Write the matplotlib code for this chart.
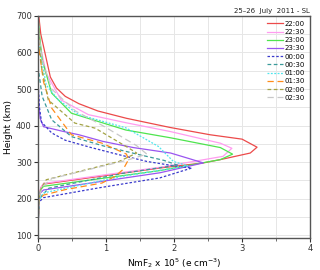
import matplotlib
matplotlib.use("Agg")
import matplotlib.pyplot as plt
from matplotlib.ticker import MultipleLocator

# electron density profiles, NmF2 (x 1e5 e/cm3) vs height (km)
h_2200 = [100, 200, 230, 240, 260, 284, 298, 307, 325, 341, 363, 375, 395, 420, 440, 460, 480, 503, 533, 600, 650, 700]
n_2200 = [0, 0.01, 0.04, 0.08, 0.86, 1.79, 2.43, 2.68, 3.12, 3.22, 3.00, 2.53, 1.94, 1.3, 0.88, 0.6, 0.4, 0.27, 0.18, 0.1, 0.04, 0.01]

h_2230 = [100, 200, 230, 242, 262, 286, 316, 338, 352, 384, 408, 430, 470, 543, 620, 700]
n_2230 = [0, 0.01, 0.04, 0.08, 0.85, 1.79, 2.72, 2.85, 2.68, 1.94, 1.29, 0.74, 0.34, 0.12, 0.03, 0]

h_2300 = [100, 200, 225, 234, 277, 307, 322, 340, 367, 388, 434, 489, 580, 650, 700]
n_2300 = [0, 0.01, 0.04, 0.08, 1.79, 2.68, 2.86, 2.68, 1.94, 1.29, 0.49, 0.2, 0.06, 0.02, 0]

h_2330 = [100, 200, 215, 224, 271, 298, 311, 325, 340, 357, 375, 385, 397, 420, 460, 540, 700]
n_2330 = [0, 0.01, 0.03, 0.08, 1.79, 2.43, 2.2, 1.95, 1.4, 0.95, 0.6, 0.35, 0.08, 0.03, 0.01, 0, 0]

h_0000 = [100, 190, 203, 230, 257, 284, 290, 302, 320, 340, 360, 380, 410, 450, 520, 700]
n_0000 = [0, 0.01, 0.08, 0.9, 1.79, 2.26, 2.0, 1.6, 1.2, 0.78, 0.4, 0.2, 0.05, 0.02, 0, 0]

h_0030 = [100, 195, 210, 229, 270, 292, 305, 320, 345, 370, 416, 480, 560, 700]
n_0030 = [0, 0.01, 0.06, 0.16, 1.26, 2.05, 1.85, 1.5, 0.95, 0.49, 0.2, 0.06, 0.0, 0]

h_0100 = [100, 195, 216, 260, 290, 302, 343, 394, 430, 470, 511, 600, 700]
n_0100 = [0, 0.01, 0.08, 1.2, 2.2, 1.99, 1.77, 1.29, 0.6, 0.3, 0.12, 0.03, 0]

h_0130 = [100, 195, 210, 225, 243, 261, 280, 307, 322, 352, 375, 448, 520, 600, 700]
n_0130 = [0, 0.01, 0.08, 0.4, 0.94, 1.13, 1.25, 1.33, 1.3, 0.94, 0.49, 0.2, 0.08, 0.02, 0]

h_0200 = [100, 200, 230, 252, 302, 325, 339, 393, 407, 470, 560, 650, 700]
n_0200 = [0, 0.01, 0.05, 0.12, 1.19, 1.45, 1.33, 0.84, 0.54, 0.15, 0.05, 0.01, 0]

h_0230 = [100, 200, 232, 255, 305, 322, 345, 400, 440, 500, 580, 650, 700]
n_0230 = [0, 0.01, 0.06, 0.2, 1.3, 1.6, 1.45, 0.95, 0.55, 0.2, 0.06, 0.01, 0]

labels = ["22:00", "22:30", "23:00", "23:30", "00:00", "00:30", "01:00", "01:30", "02:00", "02:30"]
heights = [h_2200, h_2230, h_2300, h_2330, h_0000, h_0030, h_0100, h_0130, h_0200, h_0230]
dens = [n_2200, n_2230, n_2300, n_2330, n_0000, n_0030, n_0100, n_0130, n_0200, n_0230]
colors = ["#ec4a4a", "#ff9cf0", "#4ee44e", "#9a55f0", "#3a3acc", "#3a9a9a", "#4ee6ee", "#ff8c1a", "#a3a345", "#c8c8c8"]
styles = ["-", "-", "-", "-", (0, (2, 1.5)), (0, (3, 2)), (0, (1.5, 1.2)), (0, (5, 3)), (0, (3, 2)), (0, (5, 3))]

fig = plt.figure(figsize=(3.2, 2.7), dpi=100)
ax = fig.add_axes([0.119, 0.119, 0.850, 0.822])

for h, n, lab, c, ls in zip(heights, dens, labels, colors, styles):
    ax.plot(n, h, color=c, linestyle=ls, linewidth=0.9, label=lab)

ax.set_xlim(0, 4)
ax.set_ylim(93, 700)
ax.xaxis.set_major_locator(MultipleLocator(1))
ax.xaxis.set_minor_locator(MultipleLocator(0.5))
ax.yaxis.set_major_locator(MultipleLocator(100))
ax.yaxis.set_minor_locator(MultipleLocator(50))
ax.grid(which="both", color="#e6e6e6", linewidth=0.7)
ax.set_axisbelow(True)
for s in ax.spines.values():
    s.set_color("#555555")
    s.set_linewidth(1.0)
ax.tick_params(which="major", length=3, width=0.8, labelsize=6, colors="#333333", pad=1.5)
ax.tick_params(which="minor", length=2, width=0.6, colors="#555555")

ax.set_ylabel("Height (km)", fontsize=6.5, labelpad=2)
ax.set_xlabel(r"NmF$_2$ x 10$^5$ (e cm$^{-3}$)", fontsize=6.5, labelpad=2)
fig.text(0.969, 0.947, "25\u201326  July  2011 - SL", fontsize=5, ha="right", va="bottom", color="#222222")

ax.legend(loc="upper right", fontsize=5, frameon=False, handlelength=2.2, labelspacing=0.32,
          handletextpad=0.3, borderaxespad=0.3)

fig.savefig("out.png", dpi=100)
